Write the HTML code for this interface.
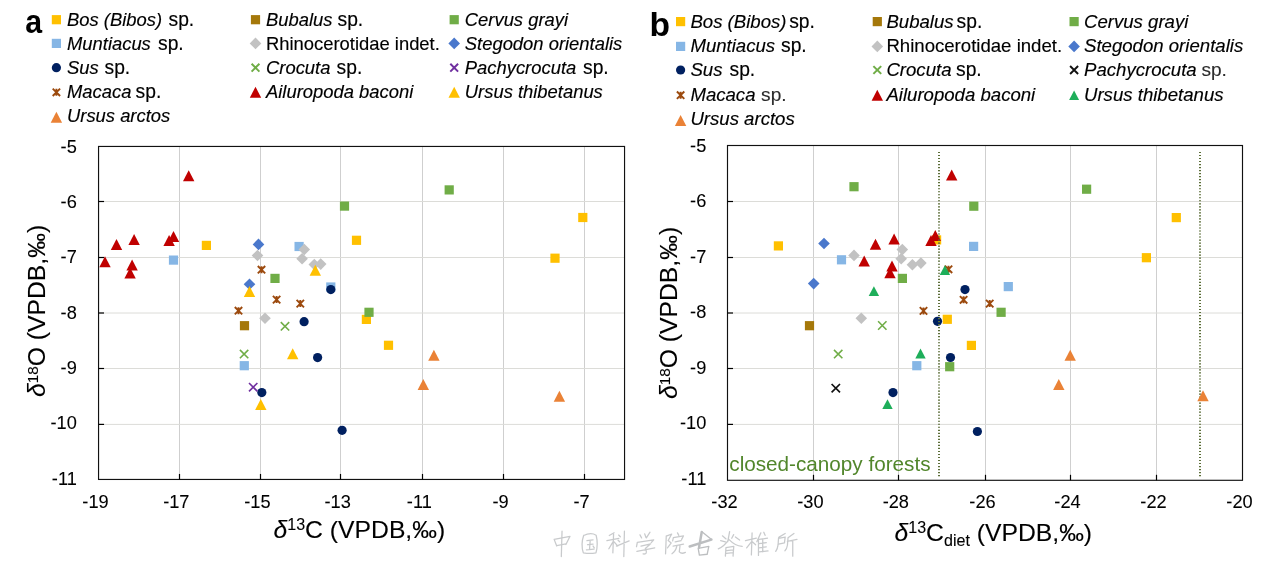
<!DOCTYPE html>
<html><head><meta charset="utf-8"><title>Stable isotope scatter plots</title>
<style>
html,body{margin:0;padding:0;background:#fff;}
body{width:1269px;height:563px;overflow:hidden;font-family:"Liberation Sans",sans-serif;}
svg{display:block;will-change:transform;}
</style></head><body>
<svg width="1269" height="563" viewBox="0 0 1269 563" font-family="Liberation Sans, sans-serif" fill="#000">
<rect width="1269" height="563" fill="#fff"/>
<line x1="179.5" y1="146.45" x2="179.5" y2="479.45" stroke="#CFCFCF" stroke-width="1"/>
<line x1="260.5" y1="146.45" x2="260.5" y2="479.45" stroke="#CFCFCF" stroke-width="1"/>
<line x1="340.5" y1="146.45" x2="340.5" y2="479.45" stroke="#CFCFCF" stroke-width="1"/>
<line x1="422.5" y1="146.45" x2="422.5" y2="479.45" stroke="#CFCFCF" stroke-width="1"/>
<line x1="503.5" y1="146.45" x2="503.5" y2="479.45" stroke="#CFCFCF" stroke-width="1"/>
<line x1="584.5" y1="146.45" x2="584.5" y2="479.45" stroke="#CFCFCF" stroke-width="1"/>
<line x1="98.55" y1="201.5" x2="624.5" y2="201.5" stroke="#DCDCD8" stroke-width="1"/>
<line x1="98.55" y1="257.5" x2="624.5" y2="257.5" stroke="#DCDCD8" stroke-width="1"/>
<line x1="98.55" y1="313.0" x2="624.5" y2="313.0" stroke="#DCDCD8" stroke-width="1"/>
<line x1="98.55" y1="368.5" x2="624.5" y2="368.5" stroke="#DCDCD8" stroke-width="1"/>
<line x1="98.55" y1="424.4" x2="624.5" y2="424.4" stroke="#DCDCD8" stroke-width="1"/>
<rect x="201.8" y="240.8" width="9.2" height="9.2" fill="#FFC000"/>
<rect x="351.9" y="235.7" width="9.2" height="9.2" fill="#FFC000"/>
<rect x="550.4" y="253.6" width="9.2" height="9.2" fill="#FFC000"/>
<rect x="578.2" y="212.9" width="9.2" height="9.2" fill="#FFC000"/>
<rect x="361.8" y="314.8" width="9.2" height="9.2" fill="#FFC000"/>
<rect x="383.9" y="340.7" width="9.2" height="9.2" fill="#FFC000"/>
<rect x="239.9" y="321.1" width="9.2" height="9.2" fill="#A5780A"/>
<rect x="339.9" y="201.5" width="9.2" height="9.2" fill="#70AD47"/>
<rect x="444.6" y="185.3" width="9.2" height="9.2" fill="#70AD47"/>
<rect x="270.4" y="273.8" width="9.2" height="9.2" fill="#70AD47"/>
<rect x="364.4" y="307.7" width="9.2" height="9.2" fill="#70AD47"/>
<rect x="168.9" y="255.5" width="9.2" height="9.2" fill="#86B6E5"/>
<rect x="294.5" y="241.9" width="9.2" height="9.2" fill="#86B6E5"/>
<rect x="326.2" y="282.4" width="9.2" height="9.2" fill="#86B6E5"/>
<rect x="239.7" y="361.1" width="9.2" height="9.2" fill="#86B6E5"/>
<path d="M304.3 243.7L310.1 249.5L304.3 255.3L298.5 249.5Z" fill="#C2C2C2"/>
<path d="M257.5 249.7L263.3 255.5L257.5 261.3L251.7 255.5Z" fill="#C2C2C2"/>
<path d="M302.1 252.9L307.9 258.7L302.1 264.5L296.3 258.7Z" fill="#C2C2C2"/>
<path d="M314.3 258.7L320.1 264.5L314.3 270.3L308.5 264.5Z" fill="#C2C2C2"/>
<path d="M320.7 258.3L326.5 264.1L320.7 269.9L314.9 264.1Z" fill="#C2C2C2"/>
<path d="M265.0 312.5L270.8 318.3L265.0 324.1L259.2 318.3Z" fill="#C2C2C2"/>
<path d="M258.5 238.6L264.3 244.4L258.5 250.2L252.7 244.4Z" fill="#4A78CC"/>
<path d="M249.5 278.4L255.3 284.2L249.5 290.0L243.7 284.2Z" fill="#4A78CC"/>
<circle cx="330.8" cy="289.6" r="4.6" fill="#002060"/>
<circle cx="304.1" cy="321.7" r="4.6" fill="#002060"/>
<circle cx="317.6" cy="357.6" r="4.6" fill="#002060"/>
<circle cx="261.8" cy="392.6" r="4.6" fill="#002060"/>
<circle cx="342.1" cy="430.3" r="4.6" fill="#002060"/>
<path d="M280.8 322.1L289.2 330.5M289.2 322.1L280.8 330.5" stroke="#70AD47" stroke-width="1.6" fill="none"/>
<path d="M239.9 349.9L248.3 358.3M248.3 349.9L239.9 358.3" stroke="#70AD47" stroke-width="1.6" fill="none"/>
<path d="M249.0 383.0L257.4 391.4M257.4 383.0L249.0 391.4" stroke="#7030A0" stroke-width="1.6" fill="none"/>
<path d="M257.8 266.0L265.2 273.4M265.2 266.0L257.8 273.4M261.5 266.2L261.5 273.2" stroke="#9C4A0E" stroke-width="1.9" fill="none"/>
<path d="M272.9 295.9L280.3 303.3M280.3 295.9L272.9 303.3M276.6 296.1L276.6 303.1" stroke="#9C4A0E" stroke-width="1.9" fill="none"/>
<path d="M296.6 299.9L304.0 307.3M304.0 299.9L296.6 307.3M300.3 300.1L300.3 307.1" stroke="#9C4A0E" stroke-width="1.9" fill="none"/>
<path d="M234.8 307.0L242.2 314.4M242.2 307.0L234.8 314.4M238.5 307.2L238.5 314.2" stroke="#9C4A0E" stroke-width="1.9" fill="none"/>
<path d="M188.7 170.2L194.4 181.2L183.0 181.2Z" fill="#C00000"/>
<path d="M116.5 238.9L122.2 249.9L110.8 249.9Z" fill="#C00000"/>
<path d="M134.1 233.9L139.8 244.9L128.4 244.9Z" fill="#C00000"/>
<path d="M169.1 234.9L174.8 245.9L163.4 245.9Z" fill="#C00000"/>
<path d="M173.5 230.9L179.2 241.9L167.8 241.9Z" fill="#C00000"/>
<path d="M105.0 256.2L110.7 267.2L99.3 267.2Z" fill="#C00000"/>
<path d="M132.1 259.6L137.8 270.6L126.4 270.6Z" fill="#C00000"/>
<path d="M130.1 267.6L135.8 278.6L124.4 278.6Z" fill="#C00000"/>
<path d="M315.3 264.8L321.0 275.8L309.6 275.8Z" fill="#FFC000"/>
<path d="M249.5 286.1L255.2 297.1L243.8 297.1Z" fill="#FFC000"/>
<path d="M292.7 348.2L298.4 359.2L287.0 359.2Z" fill="#FFC000"/>
<path d="M260.8 399.1L266.5 410.1L255.1 410.1Z" fill="#FFC000"/>
<path d="M433.9 349.8L439.6 360.8L428.2 360.8Z" fill="#EA8236"/>
<path d="M423.3 379.1L429.0 390.1L417.6 390.1Z" fill="#EA8236"/>
<path d="M559.4 390.8L565.1 401.8L553.7 401.8Z" fill="#EA8236"/>
<rect x="98.55" y="146.45" width="526.0" height="333.0" fill="none" stroke="#111" stroke-width="1.15"/>
<line x1="179.5" y1="479.45" x2="179.5" y2="473.95" stroke="#000" stroke-width="1.2"/>
<line x1="260.5" y1="479.45" x2="260.5" y2="473.95" stroke="#000" stroke-width="1.2"/>
<line x1="340.5" y1="479.45" x2="340.5" y2="473.95" stroke="#000" stroke-width="1.2"/>
<line x1="422.5" y1="479.45" x2="422.5" y2="473.95" stroke="#000" stroke-width="1.2"/>
<line x1="503.5" y1="479.45" x2="503.5" y2="473.95" stroke="#000" stroke-width="1.2"/>
<line x1="584.5" y1="479.45" x2="584.5" y2="473.95" stroke="#000" stroke-width="1.2"/>
<line x1="98.55" y1="201.5" x2="104.05" y2="201.5" stroke="#000" stroke-width="1.2"/>
<line x1="98.55" y1="257.5" x2="104.05" y2="257.5" stroke="#000" stroke-width="1.2"/>
<line x1="98.55" y1="313.0" x2="104.05" y2="313.0" stroke="#000" stroke-width="1.2"/>
<line x1="98.55" y1="368.5" x2="104.05" y2="368.5" stroke="#000" stroke-width="1.2"/>
<line x1="98.55" y1="424.4" x2="104.05" y2="424.4" stroke="#000" stroke-width="1.2"/>
<text transform="translate(95.5,507.7) scale(1.04,1)" font-size="17.5" text-anchor="middle" stroke="#000" stroke-width="0.08">-19</text>
<text transform="translate(176.3,507.7) scale(1.04,1)" font-size="17.5" text-anchor="middle" stroke="#000" stroke-width="0.08">-17</text>
<text transform="translate(257.4,507.7) scale(1.04,1)" font-size="17.5" text-anchor="middle" stroke="#000" stroke-width="0.08">-15</text>
<text transform="translate(337.6,507.7) scale(1.04,1)" font-size="17.5" text-anchor="middle" stroke="#000" stroke-width="0.08">-13</text>
<text transform="translate(419.3,507.7) scale(1.04,1)" font-size="17.5" text-anchor="middle" stroke="#000" stroke-width="0.08">-11</text>
<text transform="translate(500.5,507.7) scale(1.04,1)" font-size="17.5" text-anchor="middle" stroke="#000" stroke-width="0.08">-9</text>
<text transform="translate(581.5,507.7) scale(1.04,1)" font-size="17.5" text-anchor="middle" stroke="#000" stroke-width="0.08">-7</text>
<text transform="translate(76.8,152.5) scale(1.04,1)" font-size="17.5" text-anchor="end" stroke="#000" stroke-width="0.08">-5</text>
<text transform="translate(76.8,207.9) scale(1.04,1)" font-size="17.5" text-anchor="end" stroke="#000" stroke-width="0.08">-6</text>
<text transform="translate(76.8,263.2) scale(1.04,1)" font-size="17.5" text-anchor="end" stroke="#000" stroke-width="0.08">-7</text>
<text transform="translate(76.8,318.6) scale(1.04,1)" font-size="17.5" text-anchor="end" stroke="#000" stroke-width="0.08">-8</text>
<text transform="translate(76.8,373.9) scale(1.04,1)" font-size="17.5" text-anchor="end" stroke="#000" stroke-width="0.08">-9</text>
<text transform="translate(76.8,429.3) scale(1.04,1)" font-size="17.5" text-anchor="end" stroke="#000" stroke-width="0.08">-10</text>
<text transform="translate(76.8,484.7) scale(1.04,1)" font-size="17.5" text-anchor="end" stroke="#000" stroke-width="0.08">-11</text>
<line x1="813.5" y1="145.5" x2="813.5" y2="480.3" stroke="#CFCFCF" stroke-width="1"/>
<line x1="898.5" y1="145.5" x2="898.5" y2="480.3" stroke="#CFCFCF" stroke-width="1"/>
<line x1="985.5" y1="145.5" x2="985.5" y2="480.3" stroke="#CFCFCF" stroke-width="1"/>
<line x1="1070.5" y1="145.5" x2="1070.5" y2="480.3" stroke="#CFCFCF" stroke-width="1"/>
<line x1="1156.5" y1="145.5" x2="1156.5" y2="480.3" stroke="#CFCFCF" stroke-width="1"/>
<line x1="727.5" y1="201.5" x2="1242.5" y2="201.5" stroke="#DCDCD8" stroke-width="1"/>
<line x1="727.5" y1="257.5" x2="1242.5" y2="257.5" stroke="#DCDCD8" stroke-width="1"/>
<line x1="727.5" y1="313.0" x2="1242.5" y2="313.0" stroke="#DCDCD8" stroke-width="1"/>
<line x1="727.5" y1="368.5" x2="1242.5" y2="368.5" stroke="#DCDCD8" stroke-width="1"/>
<line x1="727.5" y1="424.4" x2="1242.5" y2="424.4" stroke="#DCDCD8" stroke-width="1"/>
<rect x="773.8" y="241.3" width="9.2" height="9.2" fill="#FFC000"/>
<rect x="932.0" y="235.3" width="9.2" height="9.2" fill="#FFC000"/>
<rect x="1141.8" y="253.1" width="9.2" height="9.2" fill="#FFC000"/>
<rect x="1171.7" y="213.0" width="9.2" height="9.2" fill="#FFC000"/>
<rect x="942.7" y="314.7" width="9.2" height="9.2" fill="#FFC000"/>
<rect x="966.8" y="340.8" width="9.2" height="9.2" fill="#FFC000"/>
<rect x="804.9" y="321.1" width="9.2" height="9.2" fill="#A5780A"/>
<rect x="849.4" y="182.1" width="9.2" height="9.2" fill="#70AD47"/>
<rect x="969.2" y="201.6" width="9.2" height="9.2" fill="#70AD47"/>
<rect x="1082.0" y="184.6" width="9.2" height="9.2" fill="#70AD47"/>
<rect x="897.8" y="273.8" width="9.2" height="9.2" fill="#70AD47"/>
<rect x="996.5" y="307.7" width="9.2" height="9.2" fill="#70AD47"/>
<rect x="945.1" y="362.1" width="9.2" height="9.2" fill="#70AD47"/>
<rect x="836.9" y="255.2" width="9.2" height="9.2" fill="#86B6E5"/>
<rect x="969.0" y="241.8" width="9.2" height="9.2" fill="#86B6E5"/>
<rect x="1003.7" y="282.0" width="9.2" height="9.2" fill="#86B6E5"/>
<rect x="912.2" y="361.1" width="9.2" height="9.2" fill="#86B6E5"/>
<path d="M854.0 249.6L859.8 255.4L854.0 261.2L848.2 255.4Z" fill="#C2C2C2"/>
<path d="M902.3 243.8L908.1 249.6L902.3 255.4L896.5 249.6Z" fill="#C2C2C2"/>
<path d="M901.2 252.9L907.0 258.7L901.2 264.5L895.4 258.7Z" fill="#C2C2C2"/>
<path d="M912.4 258.9L918.2 264.7L912.4 270.5L906.6 264.7Z" fill="#C2C2C2"/>
<path d="M920.9 257.3L926.7 263.1L920.9 268.9L915.1 263.1Z" fill="#C2C2C2"/>
<path d="M861.3 312.5L867.1 318.3L861.3 324.1L855.5 318.3Z" fill="#C2C2C2"/>
<path d="M824.0 237.7L829.8 243.5L824.0 249.3L818.2 243.5Z" fill="#4A78CC"/>
<path d="M813.7 277.8L819.5 283.6L813.7 289.4L807.9 283.6Z" fill="#4A78CC"/>
<circle cx="965.0" cy="289.6" r="4.6" fill="#002060"/>
<circle cx="937.5" cy="321.3" r="4.6" fill="#002060"/>
<circle cx="950.5" cy="357.5" r="4.6" fill="#002060"/>
<circle cx="893.0" cy="392.6" r="4.6" fill="#002060"/>
<circle cx="977.4" cy="431.5" r="4.6" fill="#002060"/>
<path d="M878.1 321.3L886.5 329.7M886.5 321.3L878.1 329.7" stroke="#70AD47" stroke-width="1.6" fill="none"/>
<path d="M834.0 349.9L842.4 358.3M842.4 349.9L834.0 358.3" stroke="#70AD47" stroke-width="1.6" fill="none"/>
<path d="M831.6 384.0L840.0 392.4M840.0 384.0L831.6 392.4" stroke="#111111" stroke-width="1.7" fill="none"/>
<path d="M944.8 265.6L952.2 273.0M952.2 265.6L944.8 273.0M948.5 265.8L948.5 272.8" stroke="#9C4A0E" stroke-width="1.9" fill="none"/>
<path d="M959.9 296.1L967.3 303.5M967.3 296.1L959.9 303.5M963.6 296.3L963.6 303.3" stroke="#9C4A0E" stroke-width="1.9" fill="none"/>
<path d="M986.0 299.9L993.4 307.3M993.4 299.9L986.0 307.3M989.7 300.1L989.7 307.1" stroke="#9C4A0E" stroke-width="1.9" fill="none"/>
<path d="M919.8 307.2L927.2 314.6M927.2 307.2L919.8 314.6M923.5 307.4L923.5 314.4" stroke="#9C4A0E" stroke-width="1.9" fill="none"/>
<path d="M951.7 169.6L957.4 180.6L946.0 180.6Z" fill="#C00000"/>
<path d="M875.5 238.7L881.2 249.7L869.8 249.7Z" fill="#C00000"/>
<path d="M894.1 233.5L899.8 244.5L888.4 244.5Z" fill="#C00000"/>
<path d="M931.0 235.1L936.7 246.1L925.3 246.1Z" fill="#C00000"/>
<path d="M935.3 230.1L941.0 241.1L929.6 241.1Z" fill="#C00000"/>
<path d="M864.2 255.5L869.9 266.5L858.5 266.5Z" fill="#C00000"/>
<path d="M892.0 260.6L897.7 271.6L886.3 271.6Z" fill="#C00000"/>
<path d="M890.0 267.2L895.7 278.2L884.3 278.2Z" fill="#C00000"/>
<path d="M944.9 265.3L950.1 275.1L939.7 275.1Z" fill="#1EAE5A"/>
<path d="M873.9 286.3L879.1 296.1L868.7 296.1Z" fill="#1EAE5A"/>
<path d="M920.5 348.6L925.7 358.4L915.3 358.4Z" fill="#1EAE5A"/>
<path d="M887.5 399.3L892.7 409.1L882.3 409.1Z" fill="#1EAE5A"/>
<line x1="939.0" y1="151.9" x2="939.0" y2="477.3" stroke="#5C6E38" stroke-width="2" stroke-dasharray="1.15 1.87"/>
<line x1="1200.0" y1="151.9" x2="1200.0" y2="477.3" stroke="#5C6E38" stroke-width="2" stroke-dasharray="1.15 1.87"/>
<path d="M1070.2 349.8L1075.9 360.8L1064.5 360.8Z" fill="#EA8236"/>
<path d="M1058.8 379.1L1064.5 390.1L1053.1 390.1Z" fill="#EA8236"/>
<path d="M1203.0 390.2L1208.7 401.2L1197.3 401.2Z" fill="#EA8236"/>
<rect x="727.5" y="145.5" width="515.0" height="334.8" fill="none" stroke="#111" stroke-width="1.15"/>
<line x1="813.5" y1="480.3" x2="813.5" y2="474.8" stroke="#000" stroke-width="1.2"/>
<line x1="898.5" y1="480.3" x2="898.5" y2="474.8" stroke="#000" stroke-width="1.2"/>
<line x1="985.5" y1="480.3" x2="985.5" y2="474.8" stroke="#000" stroke-width="1.2"/>
<line x1="1070.5" y1="480.3" x2="1070.5" y2="474.8" stroke="#000" stroke-width="1.2"/>
<line x1="1156.5" y1="480.3" x2="1156.5" y2="474.8" stroke="#000" stroke-width="1.2"/>
<line x1="727.5" y1="201.5" x2="733.0" y2="201.5" stroke="#000" stroke-width="1.2"/>
<line x1="727.5" y1="257.5" x2="733.0" y2="257.5" stroke="#000" stroke-width="1.2"/>
<line x1="727.5" y1="313.0" x2="733.0" y2="313.0" stroke="#000" stroke-width="1.2"/>
<line x1="727.5" y1="368.5" x2="733.0" y2="368.5" stroke="#000" stroke-width="1.2"/>
<line x1="727.5" y1="424.4" x2="733.0" y2="424.4" stroke="#000" stroke-width="1.2"/>
<text transform="translate(724.5,507.7) scale(1.04,1)" font-size="17.5" text-anchor="middle" stroke="#000" stroke-width="0.08">-32</text>
<text transform="translate(810.4,507.7) scale(1.04,1)" font-size="17.5" text-anchor="middle" stroke="#000" stroke-width="0.08">-30</text>
<text transform="translate(895.8,507.7) scale(1.04,1)" font-size="17.5" text-anchor="middle" stroke="#000" stroke-width="0.08">-28</text>
<text transform="translate(982.5,507.7) scale(1.04,1)" font-size="17.5" text-anchor="middle" stroke="#000" stroke-width="0.08">-26</text>
<text transform="translate(1067.5,507.7) scale(1.04,1)" font-size="17.5" text-anchor="middle" stroke="#000" stroke-width="0.08">-24</text>
<text transform="translate(1153.5,507.7) scale(1.04,1)" font-size="17.5" text-anchor="middle" stroke="#000" stroke-width="0.08">-22</text>
<text transform="translate(1239.5,507.7) scale(1.04,1)" font-size="17.5" text-anchor="middle" stroke="#000" stroke-width="0.08">-20</text>
<text transform="translate(706.3,151.6) scale(1.04,1)" font-size="17.5" text-anchor="end" stroke="#000" stroke-width="0.08">-5</text>
<text transform="translate(706.3,207.1) scale(1.04,1)" font-size="17.5" text-anchor="end" stroke="#000" stroke-width="0.08">-6</text>
<text transform="translate(706.3,262.6) scale(1.04,1)" font-size="17.5" text-anchor="end" stroke="#000" stroke-width="0.08">-7</text>
<text transform="translate(706.3,318.2) scale(1.04,1)" font-size="17.5" text-anchor="end" stroke="#000" stroke-width="0.08">-8</text>
<text transform="translate(706.3,373.7) scale(1.04,1)" font-size="17.5" text-anchor="end" stroke="#000" stroke-width="0.08">-9</text>
<text transform="translate(706.3,429.2) scale(1.04,1)" font-size="17.5" text-anchor="end" stroke="#000" stroke-width="0.08">-10</text>
<text transform="translate(706.3,484.7) scale(1.04,1)" font-size="17.5" text-anchor="end" stroke="#000" stroke-width="0.08">-11</text>
<text transform="translate(729.3,470.8) scale(1.0,1)" font-size="20.7" text-anchor="start" fill="#51862B">closed-canopy forests</text>
<text transform="translate(273.5,537.8) scale(1.03,1)" font-size="24" text-anchor="start" stroke="#000" stroke-width="0.1"><tspan font-style="italic">δ</tspan><tspan font-size="15.6" dy="-7.8">13</tspan><tspan dy="7.8">C (VPDB,‰)</tspan></text>
<text transform="translate(894.5,540.7) scale(1.03,1)" font-size="24" text-anchor="start" stroke="#000" stroke-width="0.1"><tspan font-style="italic">δ</tspan><tspan font-size="15.6" dy="-7.8">13</tspan><tspan dy="7.8">C</tspan><tspan font-size="15.6" dy="5.5">diet</tspan><tspan dy="-5.5"> (VPDB,‰)</tspan></text>
<text transform="translate(44.9,397.0) rotate(-90) scale(1.005,1)" font-size="24.6" stroke="#000" stroke-width="0.1"><tspan font-style="italic">δ</tspan><tspan font-size="15.2" dy="-7.0">18</tspan><tspan dy="7.0">O (VPDB,‰)</tspan></text>
<text transform="translate(677.2,399.0) rotate(-90) scale(1.005,1)" font-size="24.6" stroke="#000" stroke-width="0.1"><tspan font-style="italic">δ</tspan><tspan font-size="15.2" dy="-7.0">18</tspan><tspan dy="7.0">O (VPDB,‰)</tspan></text>
<text transform="translate(25.3,32.8) scale(0.93,1)" font-size="32.6" font-weight="bold">a</text>
<rect x="51.8" y="15.1" width="9.2" height="9.2" fill="#FFC000"/>
<text x="67.0" y="25.6" font-size="18.4" font-style="italic" fill="#000" stroke="#000" stroke-width="0.15">Bos (Bibos)</text>
<text x="168.5" y="25.6" font-size="19.3" fill="#000" stroke="#000" stroke-width="0.15">sp.</text>
<rect x="51.8" y="38.8" width="9.2" height="9.2" fill="#86B6E5"/>
<text x="67.0" y="49.6" font-size="18.4" font-style="italic" fill="#000" stroke="#000" stroke-width="0.15">Muntiacus</text>
<text x="158.0" y="49.6" font-size="19.3" fill="#000" stroke="#000" stroke-width="0.15">sp.</text>
<circle cx="56.4" cy="67.7" r="4.6" fill="#002060"/>
<text x="67.0" y="74.0" font-size="18.4" font-style="italic" fill="#000" stroke="#000" stroke-width="0.15">Sus</text>
<text x="104.5" y="74.0" font-size="19.3" fill="#000" stroke="#000" stroke-width="0.15">sp.</text>
<path d="M52.7 88.6L60.1 96.0M60.1 88.6L52.7 96.0M56.4 88.8L56.4 95.8" stroke="#9C4A0E" stroke-width="1.9" fill="none"/>
<text x="67.0" y="98.0" font-size="18.4" font-style="italic" fill="#000" stroke="#000" stroke-width="0.15">Macaca</text>
<text x="135.6" y="98.0" font-size="19.3" fill="#000" stroke="#000" stroke-width="0.15">sp.</text>
<path d="M56.4 111.7L62.1 122.7L50.7 122.7Z" fill="#EA8236"/>
<text x="67.0" y="122.3" font-size="18.4" font-style="italic" fill="#000" stroke="#000" stroke-width="0.15">Ursus arctos</text>
<rect x="250.9" y="15.1" width="9.2" height="9.2" fill="#A5780A"/>
<text x="266.0" y="25.6" font-size="18.4" font-style="italic" fill="#000" stroke="#000" stroke-width="0.15">Bubalus</text>
<text x="337.5" y="25.6" font-size="19.3" fill="#000" stroke="#000" stroke-width="0.15">sp.</text>
<path d="M255.5 37.6L261.3 43.4L255.5 49.2L249.7 43.4Z" fill="#C2C2C2"/>
<text x="266.0" y="49.6" font-size="18.4" fill="#000" stroke="#000" stroke-width="0.15">Rhinocerotidae indet.</text>
<path d="M251.6 63.8L259.4 71.6M259.4 63.8L251.6 71.6" stroke="#70AD47" stroke-width="2.0" fill="none"/>
<text x="266.0" y="74.0" font-size="18.4" font-style="italic" fill="#000" stroke="#000" stroke-width="0.15">Crocuta</text>
<text x="336.6" y="74.0" font-size="19.3" fill="#000" stroke="#000" stroke-width="0.15">sp.</text>
<path d="M255.5 86.8L261.2 97.8L249.8 97.8Z" fill="#C00000"/>
<text x="266.0" y="98.0" font-size="18.4" font-style="italic" fill="#000" stroke="#000" stroke-width="0.15">Ailuropoda baconi</text>
<rect x="449.6" y="15.1" width="9.2" height="9.2" fill="#70AD47"/>
<text x="464.8" y="25.6" font-size="18.4" font-style="italic" fill="#000" stroke="#000" stroke-width="0.15">Cervus grayi</text>
<path d="M454.2 37.6L460.0 43.4L454.2 49.2L448.4 43.4Z" fill="#4A78CC"/>
<text x="464.8" y="49.6" font-size="18.4" font-style="italic" fill="#000" stroke="#000" stroke-width="0.15">Stegodon orientalis</text>
<path d="M450.3 63.8L458.1 71.6M458.1 63.8L450.3 71.6" stroke="#7030A0" stroke-width="2.0" fill="none"/>
<text x="464.8" y="74.0" font-size="18.4" font-style="italic" fill="#000" stroke="#000" stroke-width="0.15">Pachycrocuta</text>
<text x="583.0" y="74.0" font-size="19.3" fill="#000" stroke="#000" stroke-width="0.15">sp.</text>
<path d="M454.2 86.8L459.9 97.8L448.5 97.8Z" fill="#FFC000"/>
<text x="464.8" y="98.0" font-size="18.4" font-style="italic" fill="#000" stroke="#000" stroke-width="0.15">Ursus thibetanus</text>
<text x="649.6" y="35.5" font-size="33.6" font-weight="bold">b</text>
<rect x="676.0" y="17.0" width="9.2" height="9.2" fill="#FFC000"/>
<text x="690.4" y="27.6" font-size="18.6" font-style="italic" fill="#000" stroke="#000" stroke-width="0.15">Bos (Bibos)</text>
<text x="789.2" y="27.6" font-size="19.3" fill="#000" stroke="#000" stroke-width="0.15">sp.</text>
<rect x="676.0" y="41.8" width="9.2" height="9.2" fill="#86B6E5"/>
<text x="690.4" y="52.3" font-size="18.6" font-style="italic" fill="#000" stroke="#000" stroke-width="0.15">Muntiacus</text>
<text x="781.0" y="52.3" font-size="19.3" fill="#000" stroke="#000" stroke-width="0.15">sp.</text>
<circle cx="680.6" cy="70.0" r="4.6" fill="#002060"/>
<text x="690.4" y="76.3" font-size="18.6" font-style="italic" fill="#000" stroke="#000" stroke-width="0.15">Sus</text>
<text x="729.5" y="76.3" font-size="19.3" fill="#000" stroke="#000" stroke-width="0.15">sp.</text>
<path d="M676.9 91.5L684.3 98.9M684.3 91.5L676.9 98.9M680.6 91.7L680.6 98.7" stroke="#9C4A0E" stroke-width="1.9" fill="none"/>
<text x="690.4" y="100.6" font-size="18.6" font-style="italic" fill="#000" stroke="#000" stroke-width="0.15">Macaca</text>
<text x="761.1" y="100.6" font-size="19.1" fill="#2c2c2c" stroke="#2c2c2c" stroke-width="0.12">sp.</text>
<path d="M680.6 114.9L686.3 125.9L674.9 125.9Z" fill="#EA8236"/>
<text x="690.4" y="125.4" font-size="18.6" font-style="italic" fill="#000" stroke="#000" stroke-width="0.15">Ursus arctos</text>
<rect x="872.7" y="17.0" width="9.2" height="9.2" fill="#A5780A"/>
<text x="886.4" y="27.6" font-size="18.6" font-style="italic" fill="#000" stroke="#000" stroke-width="0.15">Bubalus</text>
<text x="956.6" y="27.6" font-size="19.3" fill="#000" stroke="#000" stroke-width="0.15">sp.</text>
<path d="M877.3 40.6L883.1 46.4L877.3 52.2L871.5 46.4Z" fill="#C2C2C2"/>
<text x="886.4" y="52.3" font-size="18.6" fill="#000" stroke="#000" stroke-width="0.15">Rhinocerotidae indet.</text>
<path d="M873.4 66.1L881.2 73.9M881.2 66.1L873.4 73.9" stroke="#70AD47" stroke-width="2.0" fill="none"/>
<text x="886.4" y="76.3" font-size="18.6" font-style="italic" fill="#000" stroke="#000" stroke-width="0.15">Crocuta</text>
<text x="956.0" y="76.3" font-size="19.3" fill="#000" stroke="#000" stroke-width="0.15">sp.</text>
<path d="M877.3 89.7L883.0 100.7L871.6 100.7Z" fill="#C00000"/>
<text x="886.4" y="100.6" font-size="18.6" font-style="italic" fill="#000" stroke="#000" stroke-width="0.15">Ailuropoda baconi</text>
<rect x="1069.5" y="17.0" width="9.2" height="9.2" fill="#70AD47"/>
<text x="1084.0" y="27.6" font-size="18.6" font-style="italic" fill="#000" stroke="#000" stroke-width="0.15">Cervus grayi</text>
<path d="M1074.1 40.6L1079.9 46.4L1074.1 52.2L1068.3 46.4Z" fill="#4A78CC"/>
<text x="1084.0" y="52.3" font-size="18.6" font-style="italic" fill="#000" stroke="#000" stroke-width="0.15">Stegodon orientalis</text>
<path d="M1070.1 66.0L1078.1 74.0M1078.1 66.0L1070.1 74.0" stroke="#111111" stroke-width="1.9" fill="none"/>
<text x="1084.0" y="76.3" font-size="18.6" font-style="italic" fill="#000" stroke="#000" stroke-width="0.15">Pachycrocuta</text>
<text x="1201.4" y="76.3" font-size="19.1" fill="#2c2c2c" stroke="#2c2c2c" stroke-width="0.12">sp.</text>
<path d="M1074.1 90.4L1079.1 100.0L1069.1 100.0Z" fill="#1EAE5A"/>
<text x="1084.0" y="100.6" font-size="18.6" font-style="italic" fill="#000" stroke="#000" stroke-width="0.15">Ursus thibetanus</text>
<g fill="none" stroke="#C6C8CA" stroke-width="1.15" stroke-linecap="round" stroke-linejoin="round" opacity="0.95">
<g transform="translate(548,524) scale(0.10244)" stroke-width="12.5">
<path d="M60 150L85 215M60 150L215 120L175 200M85 212L175 195M137 70L130 318"/>
<path d="M348 112Q318 200 345 282M348 112Q420 78 470 110Q492 200 468 282M345 282Q410 292 468 282M380 162L440 155M386 202L440 196M412 160L405 250M375 252L450 245M440 215L452 232"/>
<path d="M645 85L598 112M575 162L692 140M640 100L633 282M636 172L594 242M646 176L682 216M690 108L706 124M684 158L700 174M668 216L792 165M746 70L740 318"/>
<path d="M898 106L914 136M944 96L955 130M996 80L960 136M872 180L864 222M872 180L1032 154L1008 182M908 216L1002 194L950 240M952 240Q978 300 928 292M868 268L1042 234"/>
</g>
<g transform="translate(658,524) scale(0.11820)" stroke-width="10.8">
<path d="M75 100L116 85L86 140L112 160L80 202M70 100L64 252M165 75L176 96M130 116L124 142M130 116L216 100L200 130M145 152L196 141M128 187L216 171M160 186Q150 232 118 252M186 186L180 236Q200 257 232 240"/>
<path d="M996 232Q1012 210 1016 175L1020 116M1076 80L1024 111M1020 121L1076 110L1070 160L1020 171M1150 80L1100 116L1095 180Q1090 212 1074 226M1095 146L1176 130M1140 140L1140 272"/>
<path d="M740 141L832 120M796 75L790 262M790 152L750 202M800 152L826 176M870 75L836 150M850 130L850 266M895 70L906 96M855 131L926 120M855 166L916 158M855 201L916 193M855 236L931 228M886 125L886 236"/>
<path d="M545 100L576 126M530 140L570 151M606 65L590 150M640 90L624 121M655 110L690 136M600 130Q560 190 510 210M606 136Q650 182 712 190M575 200L570 272M575 200L641 190L635 272M580 226L636 218M578 249L636 242"/>
</g>
<g transform="translate(658,524) scale(0.11820)" stroke="#B9BBBD" stroke-width="21">
<path d="M268 190L452 132M370 68L347 200"/>
<path d="M372 66L450 130M340 206L350 264M340 206L430 190L416 256M350 263L416 256" stroke-width="11"/>
</g>
</g>

</svg>
</body></html>
